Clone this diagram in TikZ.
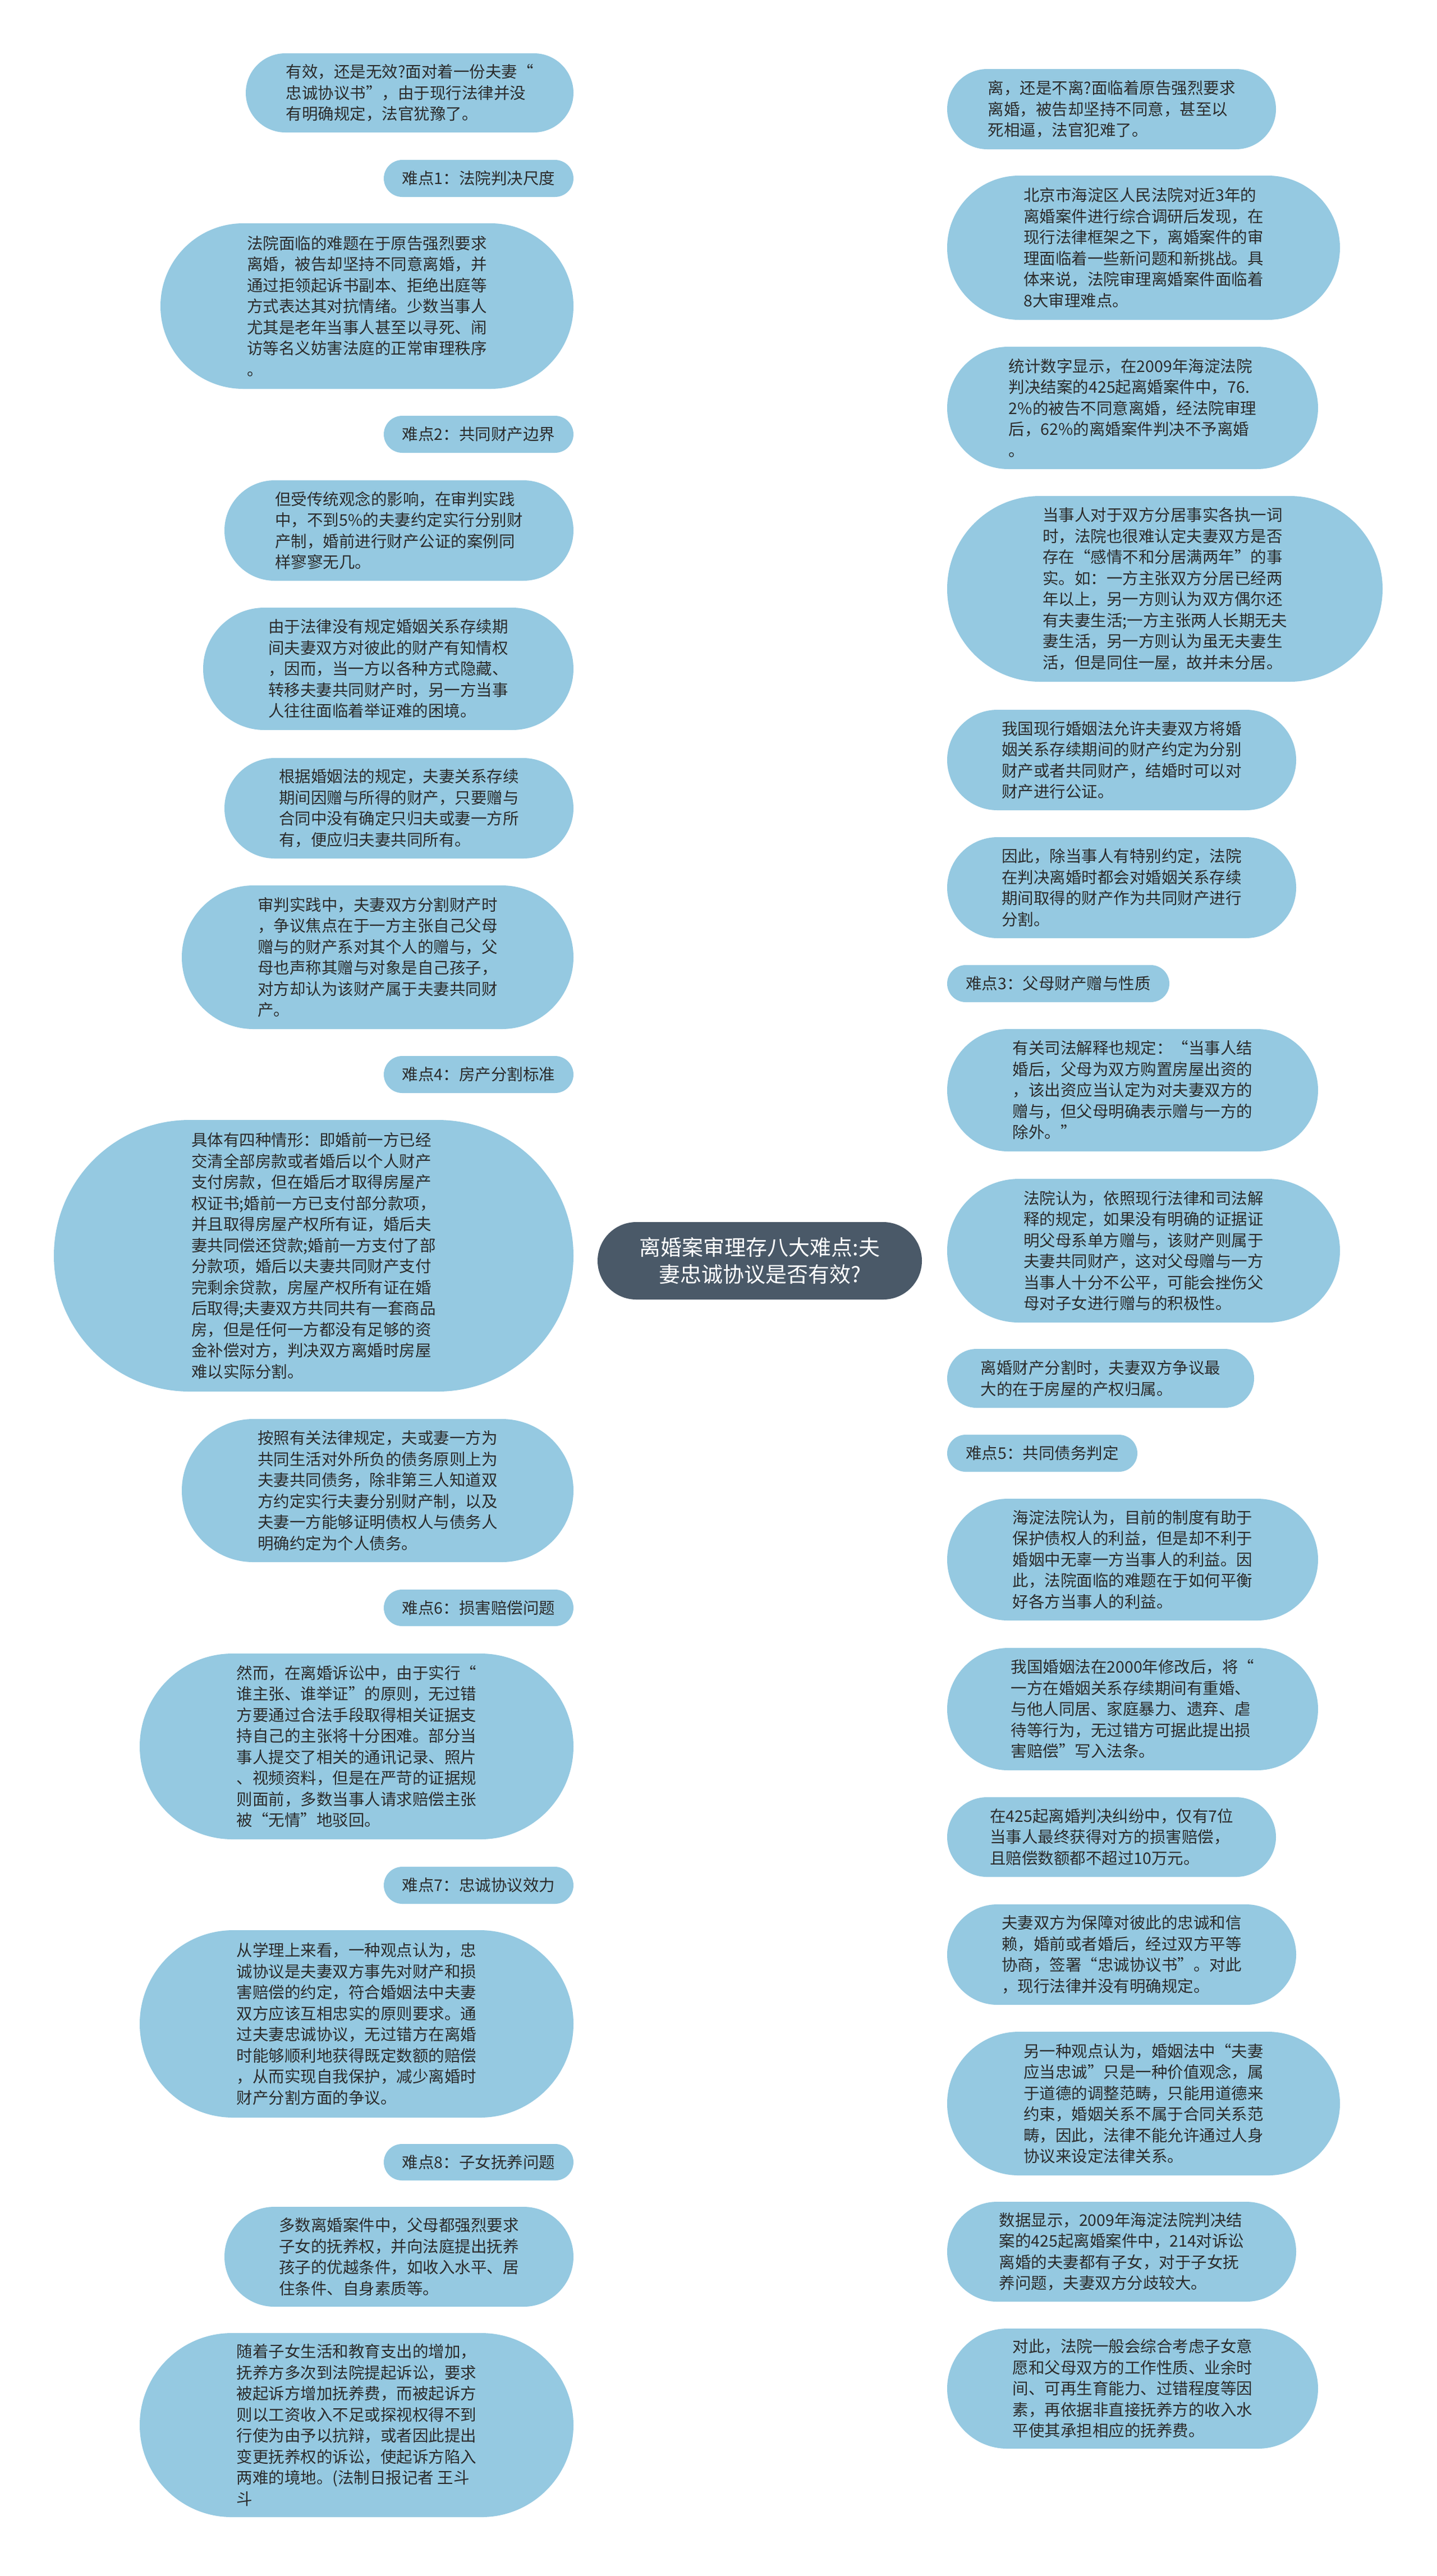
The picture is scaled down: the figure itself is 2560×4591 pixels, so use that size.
\documentclass[tikz,border=0pt]{standalone}
\usepackage{fontspec}
\setmainfont{Noto Sans CJK SC}
\usetikzlibrary{backgrounds}
\definecolor{leafc}{HTML}{95C9E1}
\definecolor{rootc}{HTML}{4A5968}
\definecolor{linec}{HTML}{44505C}
\definecolor{txtc}{HTML}{2B2B2B}
\tikzset{
  leafbox/.style={fill=leafc, draw=none, inner sep=0pt, align=left, text=txtc, font=\fontsize{28.5}{37.5}\selectfont},
  rootbox/.style={fill=rootc, draw=none, inner sep=0pt, align=center, text=white, font=\fontsize{38}{48}\selectfont},
  conn/.style={draw=linec, line width=3pt}
}
\newcommand{\leafnode}[7]{\node[leafbox, minimum width=#4pt, minimum height=#5pt, rounded corners=#6pt] (#1) at (#2,#3) {#7};}
\begin{document}
\begin{tikzpicture}[x=1pt,y=-1pt]
\useasboundingbox (0,0) rectangle (2560,4591);
\fill[white] (0,0) rectangle (2560,4591);

\node[rootbox, minimum width=578pt, minimum height=138pt, rounded corners=69pt] (root) at (1354,2247) {离婚案审理存八大难点:夫\\妻忠诚协议是否有效?};

% left column
\leafnode{L1}{730}{165.5}{584}{141}{70.5}{有效，还是无效?面对着一份夫妻“\\忠诚协议书”，由于现行法律并没\\有明确规定，法官犹豫了。}
\leafnode{L2}{853}{318}{338}{66}{33}{难点1：法院判决尺度}
\leafnode{L3}{654}{545.5}{736}{295}{147.5}{法院面临的难题在于原告强烈要求\\离婚，被告却坚持不同意离婚，并\\通过拒领起诉书副本、拒绝出庭等\\方式表达其对抗情绪。少数当事人\\尤其是老年当事人甚至以寻死、闹\\访等名义妨害法庭的正常审理秩序\\。}
\leafnode{L4}{853}{774}{338}{66}{33}{难点2：共同财产边界}
\leafnode{L5}{711}{945.5}{622}{179}{89.5}{但受传统观念的影响，在审判实践\\中，不到5\%的夫妻约定实行分别财\\产制，婚前进行财产公证的案例同\\样寥寥无几。}
\leafnode{L6}{692}{1192}{660}{218}{109}{由于法律没有规定婚姻关系存续期\\间夫妻双方对彼此的财产有知情权\\，因而，当一方以各种方式隐藏、\\转移夫妻共同财产时，另一方当事\\人往往面临着举证难的困境。}
\leafnode{L7}{711}{1440.5}{622}{179}{89.5}{根据婚姻法的规定，夫妻关系存续\\期间因赠与所得的财产，只要赠与\\合同中没有确定只归夫或妻一方所\\有，便应归夫妻共同所有。}
\leafnode{L8}{673}{1706}{698}{256}{128}{审判实践中，夫妻双方分割财产时\\，争议焦点在于一方主张自己父母\\赠与的财产系对其个人的赠与，父\\母也声称其赠与对象是自己孩子，\\对方却认为该财产属于夫妻共同财\\产。}
\leafnode{L9}{853}{1915}{338}{66}{33}{难点4：房产分割标准}
\leafnode{L10}{559}{2238}{926}{484}{242}{具体有四种情形：即婚前一方已经\\交清全部房款或者婚后以个人财产\\支付房款，但在婚后才取得房屋产\\权证书;婚前一方已支付部分款项，\\并且取得房屋产权所有证，婚后夫\\妻共同偿还贷款;婚前一方支付了部\\分款项，婚后以夫妻共同财产支付\\完剩余贷款，房屋产权所有证在婚\\后取得;夫妻双方共同共有一套商品\\房，但是任何一方都没有足够的资\\金补偿对方，判决双方离婚时房屋\\难以实际分割。}
\leafnode{L11}{673}{2656.5}{698}{255}{127.5}{按照有关法律规定，夫或妻一方为\\共同生活对外所负的债务原则上为\\夫妻共同债务，除非第三人知道双\\方约定实行夫妻分别财产制，以及\\夫妻一方能够证明债权人与债务人\\明确约定为个人债务。}
\leafnode{L12}{853}{2865.5}{338}{65}{32.5}{难点6：损害赔偿问题}
\leafnode{L13}{635.5}{3112.5}{773}{331}{165.5}{然而，在离婚诉讼中，由于实行“\\谁主张、谁举证”的原则，无过错\\方要通过合法手段取得相关证据支\\持自己的主张将十分困难。部分当\\事人提交了相关的通讯记录、照片\\、视频资料，但是在严苛的证据规\\则面前，多数当事人请求赔偿主张\\被“无情”地驳回。}
\leafnode{L14}{853}{3360}{338}{66}{33}{难点7：忠诚协议效力}
\leafnode{L15}{635.5}{3607}{773}{334}{167}{从学理上来看，一种观点认为，忠\\诚协议是夫妻双方事先对财产和损\\害赔偿的约定，符合婚姻法中夫妻\\双方应该互相忠实的原则要求。通\\过夫妻忠诚协议，无过错方在离婚\\时能够顺利地获得既定数额的赔偿\\，从而实现自我保护，减少离婚时\\财产分割方面的争议。}
\leafnode{L16}{853}{3853.5}{338}{65}{32.5}{难点8：子女抚养问题}
\leafnode{L17}{711}{4022}{622}{178}{89}{多数离婚案件中，父母都强烈要求\\子女的抚养权，并向法庭提出抚养\\孩子的优越条件，如收入水平、居\\住条件、自身素质等。}
\leafnode{L18}{635.5}{4322}{773}{328}{164}{随着子女生活和教育支出的增加，\\抚养方多次到法院提起诉讼，要求\\被起诉方增加抚养费，而被起诉方\\则以工资收入不足或探视权得不到\\行使为由予以抗辩，或者因此提出\\变更抚养权的诉讼，使起诉方陷入\\两难的境地。(法制日报记者 王斗\\斗}

% right column
\leafnode{R1}{1981}{194.5}{586}{143}{71.5}{离，还是不离?面临着原告强烈要求\\离婚，被告却坚持不同意，甚至以\\死相逼，法官犯难了。}
\leafnode{R2}{2038}{441.5}{700}{257}{128.5}{北京市海淀区人民法院对近3年的\\离婚案件进行综合调研后发现，在\\现行法律框架之下，离婚案件的审\\理面临着一些新问题和新挑战。具\\体来说，法院审理离婚案件面临着\\8大审理难点。}
\leafnode{R3}{2018.5}{727}{661}{218}{109}{统计数字显示，在2009年海淀法院\\判决结案的425起离婚案件中，76.\\2\%的被告不同意离婚，经法院审理\\后，62\%的离婚案件判决不予离婚\\。}
\leafnode{R4}{2076}{1049.5}{776}{331}{165.5}{当事人对于双方分居事实各执一词\\时，法院也很难认定夫妻双方是否\\存在“感情不和分居满两年”的事\\实。如：一方主张双方分居已经两\\年以上，另一方则认为双方偶尔还\\有夫妻生活;一方主张两人长期无夫\\妻生活，另一方则认为虽无夫妻生\\活，但是同住一屋，故并未分居。}
\leafnode{R5}{1999}{1354.5}{622}{179}{89.5}{我国现行婚姻法允许夫妻双方将婚\\姻关系存续期间的财产约定为分别\\财产或者共同财产，结婚时可以对\\财产进行公证。}
\leafnode{R6}{1999}{1582}{622}{180}{90}{因此，除当事人有特别约定，法院\\在判决离婚时都会对婚姻关系存续\\期间取得的财产作为共同财产进行\\分割。}
\leafnode{R7}{1886}{1753}{396}{66}{33}{难点3：父母财产赠与性质}
\leafnode{R8}{2018.5}{1943}{661}{218}{109}{有关司法解释也规定：“当事人结\\婚后，父母为双方购置房屋出资的\\，该出资应当认定为对夫妻双方的\\赠与，但父母明确表示赠与一方的\\除外。”}
\leafnode{R9}{2038}{2229}{700}{256}{128}{法院认为，依照现行法律和司法解\\释的规定，如果没有明确的证据证\\明父母系单方赠与，该财产则属于\\夫妻共同财产，这对父母赠与一方\\当事人十分不公平，可能会挫伤父\\母对子女进行赠与的积极性。}
\leafnode{R10}{1961.5}{2456.5}{547}{105}{52.5}{离婚财产分割时，夫妻双方争议最\\大的在于房屋的产权归属。}
\leafnode{R11}{1857.5}{2590}{339}{66}{33}{难点5：共同债务判定}
\leafnode{R12}{2018.5}{2779.5}{661}{217}{108.5}{海淀法院认为，目前的制度有助于\\保护债权人的利益，但是却不利于\\婚姻中无辜一方当事人的利益。因\\此，法院面临的难题在于如何平衡\\好各方当事人的利益。}
\leafnode{R13}{2018.5}{3046}{661}{218}{109}{我国婚姻法在2000年修改后，将“\\一方在婚姻关系存续期间有重婚、\\与他人同居、家庭暴力、遗弃、虐\\待等行为，无过错方可据此提出损\\害赔偿”写入法条。}
\leafnode{R14}{1981}{3274}{586}{142}{71}{在425起离婚判决纠纷中，仅有7位\\当事人最终获得对方的损害赔偿，\\且赔偿数额都不超过10万元。}
\leafnode{R15}{1999}{3483.5}{622}{179}{89.5}{夫妻双方为保障对彼此的忠诚和信\\赖，婚前或者婚后，经过双方平等\\协商，签署“忠诚协议书”。对此\\，现行法律并没有明确规定。}
\leafnode{R16}{2038}{3749}{700}{256}{128}{另一种观点认为，婚姻法中“夫妻\\应当忠诚”只是一种价值观念，属\\于道德的调整范畴，只能用道德来\\约束，婚姻关系不属于合同关系范\\畴，因此，法律不能允许通过人身\\协议来设定法律关系。}
\leafnode{R17}{1999}{4013}{622}{178}{89}{数据显示，2009年海淀法院判决结\\案的425起离婚案件中，214对诉讼\\离婚的夫妻都有子女，对于子女抚\\养问题，夫妻双方分歧较大。}
\leafnode{R18}{2018.5}{4257}{661}{214}{107}{对此，法院一般会综合考虑子女意\\愿和父母双方的工作性质、业余时\\间、可再生育能力、过错程度等因\\素，再依据非直接抚养方的收入水\\平使其承担相应的抚养费。}

\begin{pgfonlayer}{background}
\foreach \n in {L1,L2,L3,L4,L5,L6,L7,L8,L9,L10,L11,L12,L13,L14,L15,L16,L17,L18}
  \draw[conn] (root.center) .. controls (root.center) and (root.center |- \n.east) .. (\n.east);
\foreach \n in {R1,R2,R3,R4,R5,R6,R7,R8,R9,R10,R11,R12,R13,R14,R15,R16,R17,R18}
  \draw[conn] (root.center) .. controls (root.center) and (root.center |- \n.west) .. (\n.west);
\end{pgfonlayer}
\end{tikzpicture}
\end{document}
